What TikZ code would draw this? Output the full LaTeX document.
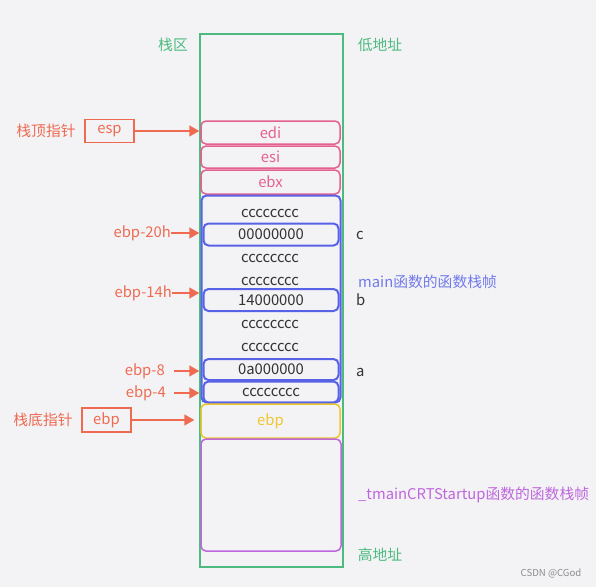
\documentclass[tikz,border=0pt]{standalone}
\usepackage{fontspec}
\setmainfont{Noto Sans CJK SC}
\usetikzlibrary{positioning,arrows.meta}
\definecolor{stackgreen}{HTML}{4DBB7F}
\definecolor{regpink}{HTML}{E5608E}
\definecolor{mainblue}{HTML}{5862E6}
\definecolor{ebpyellow}{HTML}{EEC630}
\definecolor{crtpurple}{HTML}{BF66DE}
\definecolor{ptrred}{HTML}{EE6B52}
\definecolor{bggray}{HTML}{F3F3F5}
\definecolor{ink}{HTML}{333333}
\tikzset{
 every node/.style={font=\fontsize{14.8}{17}\selectfont,inner sep=0pt},
 cell/.style={rectangle,rounded corners=5pt,line width=1.5pt,minimum width=139pt,minimum height=23pt},
 reg/.style={cell,draw=regpink,text=regpink},
 slot/.style={cell,draw=mainblue,line width=2pt,minimum width=135pt,minimum height=22pt,text=ink},
 filler/.style={text=ink},
 ptrbox/.style={rectangle,draw=ptrred,line width=1.5pt,text=ptrred,minimum width=49pt,minimum height=24pt},
 ptrtext/.style={text=ptrred},
 ptr/.style={-{Triangle[length=10pt,width=11pt]},draw=ptrred,line width=1.5pt}
 }
\begin{document}
\begin{tikzpicture}[x=1pt,y=-1pt]
  \fill[bggray] (0,0) rectangle (596,587);
  \useasboundingbox (0,0) rectangle (596,587);
  % stack area
  \node[draw=stackgreen,line width=1.5pt,minimum width=143pt,minimum height=533pt] (stack) at (271.5,300.5) {};
  \node[text=stackgreen] (stacklbl) at (173,45) {栈区};
  \node[text=stackgreen] (low) at (380,45) {低地址};
  \node[text=stackgreen] (high) at (380,555) {高地址};
  % saved registers
  \node[reg] (edi) at (270.5,132.5) {edi};
  \node[reg,minimum height=22pt] (esi) at (270.5,157) {esi};
  \node[reg,minimum height=24pt] (ebx) at (270.5,182) {ebx};
  % frame of main
  \node[cell,draw=mainblue,line width=2pt,minimum height=207pt] (mainframe) at (271,299) {};
  \node[filler] (c1) at (270,213) {cccccccc};
  \node[slot] (varc) at (271,234.5) {00000000};
  \node[filler] (c2) at (270,258) {cccccccc};
  \node[filler] (c3) at (270,281) {cccccccc};
  \node[slot] (varb) at (271,300) {14000000};
  \node[filler] (c4) at (270,324) {cccccccc};
  \node[filler] (c5) at (270,347) {cccccccc};
  \node[slot,minimum height=21pt] (vara) at (271,369.5) {0a000000};
  \node[slot,minimum height=21pt] (c6) at (271,392) {cccccccc};
  \node[text=ink,anchor=west] (lblc) at (356,235) {c};
  \node[text=ink,anchor=west] (lblb) at (356,300) {b};
  \node[text=ink,anchor=west] (lbla) at (356,372) {a};
  \node[text=mainblue!85,anchor=west] (mainlbl) at (358,282) {main函数的函数栈帧};
  % saved ebp and caller frame
  \node[cell,draw=ebpyellow,text=ebpyellow,minimum height=34pt] (oldebp) at (270.5,421) {ebp};
  \node[cell,draw=crtpurple,minimum width=140pt,minimum height=112pt] (crtframe) at (271,495) {};
  \node[text=crtpurple,anchor=west] (crtlbl) at (358,495) {\_tmainCRTStartup函数的函数栈帧};
  % pointers
  \node[ptrtext] (toplbl) at (46,131) {栈顶指针};
  \node[ptrbox,minimum height=23pt] (esp) at (109.5,131) {esp};
  \draw[ptr] (esp) -- (esp -| stack.west);
  \node[ptrtext,anchor=east] (o20) at (171,233) {ebp-20h};
  \draw[ptr] (o20) -- (o20 -| stack.west);
  \node[ptrtext,anchor=east] (o14) at (172,293) {ebp-14h};
  \draw[ptr] (o14) -- (o14 -| stack.west);
  \node[ptrtext,anchor=east] (o8) at (165,371) {ebp-8};
  \draw[ptr,shorten <=9pt] (o8) -- (o8 -| stack.west);
  \node[ptrtext,anchor=east] (o4) at (166,393) {ebp-4};
  \draw[ptr,shorten <=8pt] (o4) -- (o4 -| stack.west);
  \node[ptrtext] (botlbl) at (43,420) {栈底指针};
  \node[ptrbox] (ebp) at (106.5,420) {ebp};
  \draw[ptr] (ebp) -- ([xshift=-5pt]ebp -| stack.west);
  \node[text=black!45,font=\fontsize{9.6}{11}\selectfont] (mark) at (551,573) {CSDN @CGod};
\end{tikzpicture}
\end{document}
